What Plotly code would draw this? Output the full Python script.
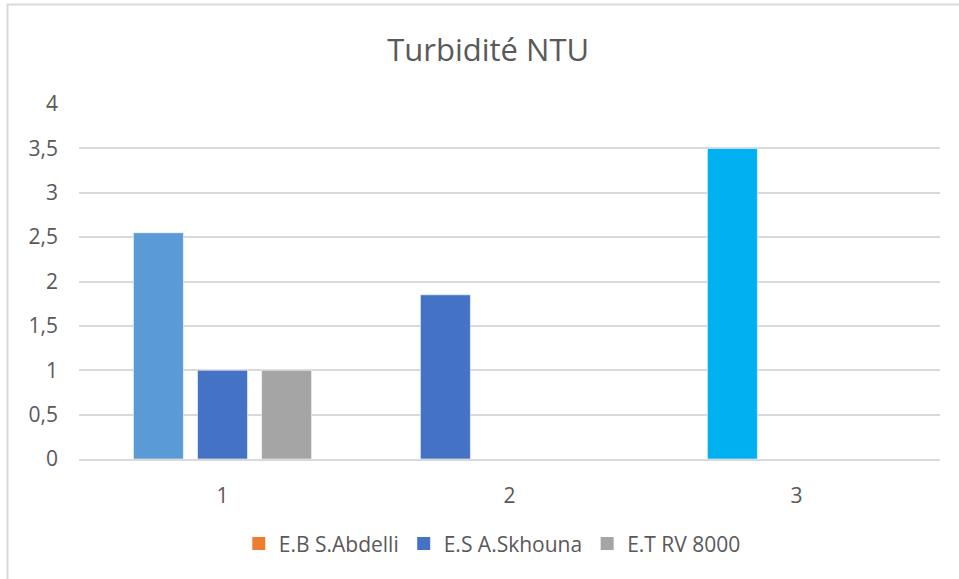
import plotly.graph_objects as go

# Turbidity readings (NTU) per sampling point
categories = ["1", "2", "3"]
series_names = ["E.B S.Abdelli", "E.S A.Skhouna", "E.T RV 8000"]
abdelli = [2.55, 1.85, 3.5]
skhouna = [1, None, None]
rv8000 = [1, None, None]

series_values = [abdelli, skhouna, rv8000]
legend_colors = ["#ED7D31", "#4472C4", "#A5A5A5"]
# per-point fills (the first series carries individually coloured points)
bar_colors = [["#5B9BD5", "#4472C4", "#00B0F0"], "#4472C4", "#A5A5A5"]
y_ticks = [0, 0.5, 1, 1.5, 2, 2.5, 3, 3.5, 4]

TEXT = "#595959"
GRID = "#D9D9D9"
FONT = "'Open Sans', sans-serif"

fig = go.Figure()
for name, vals, col in zip(series_names, series_values, bar_colors):
    fig.add_trace(go.Bar(
        x=categories, y=vals, name=name, showlegend=False,
        marker=dict(color=col, line=dict(color="rgba(255,255,255,0.55)", width=1)),
    ))

# legend swatches
for name, col in zip(series_names, legend_colors):
    fig.add_trace(go.Scatter(
        x=[None], y=[None], name=name, mode="markers",
        marker=dict(symbol="square", size=13, color=col),
    ))

fig.update_layout(
    width=959, height=579,
    paper_bgcolor="white", plot_bgcolor="white",
    margin=dict(l=79, r=19, t=104, b=120),
    barmode="group", bargap=0.33, bargroupgap=0.22,
    separators=", ",
    font=dict(family=FONT, color=TEXT, size=21),
    title=dict(text="Turbidité NTU", x=0.509, xanchor="center",
               y=1 - 50 / 579, yanchor="middle",
               font=dict(family=FONT, size=31, color=TEXT)),
    legend=dict(orientation="h", x=0.48, xanchor="center",
                y=-0.239, yanchor="middle",
                font=dict(family=FONT, size=21, color=TEXT),
                itemwidth=30, traceorder="normal"),
    shapes=[dict(type="rect", xref="paper", yref="paper",
                 x0=(7.5 - 79) / 861, x1=1.2,
                 y0=-0.6, y1=(459 - 4.5) / 355,
                 line=dict(color=GRID, width=2), layer="below")],
)
fig.update_xaxes(
    type="category", showgrid=False, showline=True, linecolor=GRID, linewidth=1.5,
    ticks="", ticklabelstandoff=17, tickfont=dict(size=21, color=TEXT),
    fixedrange=True,
)
fig.update_yaxes(
    range=[0, 4], tickvals=y_ticks, showgrid=True, gridcolor=GRID, gridwidth=1.5,
    zeroline=False, showline=False, ticks="", ticklabelstandoff=20,
    tickfont=dict(size=21, color=TEXT), fixedrange=True,
)

fig.write_html("out.html")
